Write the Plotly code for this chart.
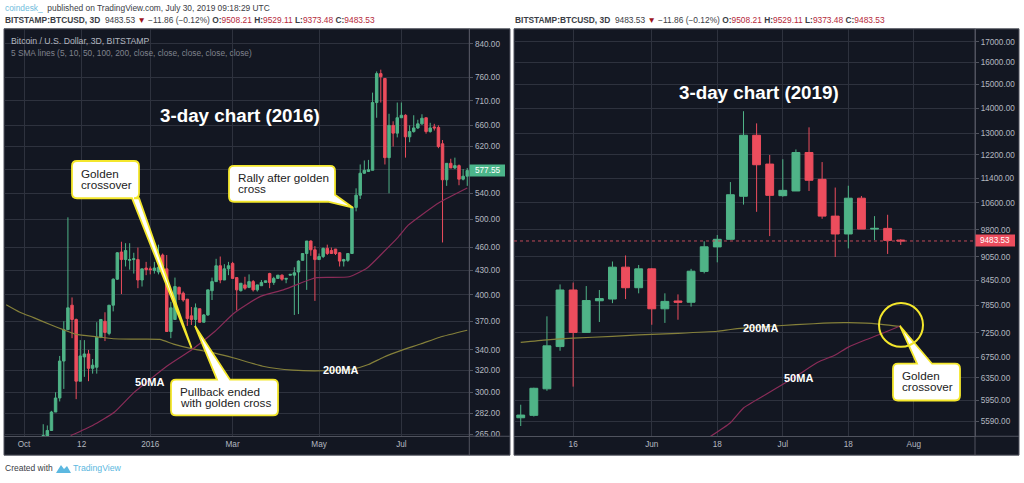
import pandas as pd
import plotly.graph_objects as go

BG = "#131722"
GRID = "#2e323e"
AXIS = "#50535e"
UP = "#4fb387"
DOWN = "#ec4d5d"
TXT = "#b4b7c0"
FONT = "Liberation Sans"

# 2015/16 3-day candles
dates_2016 = pd.date_range("2015-10-15", periods=104, freq="3D")
open_2016 = [250, 263, 268, 283, 295, 329, 361, 388, 372, 310, 333, 336, 322, 323, 353, 370, 357, 388, 419, 454,
             444, 443, 444, 444, 418, 433, 432, 430, 428, 450, 432, 359, 372, 409, 402, 395, 376, 372, 384, 369,
             377, 405, 416, 436, 418, 432, 439, 421, 405, 412, 409, 416, 406, 411, 415, 426, 415, 420, 424, 419,
             424, 424, 428, 443, 452, 469, 457, 444, 448, 459, 456, 458, 453, 442, 443, 452, 518, 537, 573, 576,
             578, 706, 769, 758, 600, 660, 645, 675, 680, 638, 648, 655, 663, 675, 648, 657, 656, 625, 562, 590,
             582, 586, 563, 568]
high_2016 = [273, 272, 284, 300, 334, 370, 503, 397, 373, 350, 350, 340, 331, 369, 372, 380, 388, 420, 454, 468,
             466, 466, 453, 460, 432, 441, 435, 441, 464, 452, 450, 392, 421, 410, 404, 395, 386, 390, 384, 378,
             406, 421, 445, 448, 438, 441, 441, 421, 414, 422, 425, 418, 412, 418, 417, 427, 422, 424, 425, 420,
             425, 434, 443, 452, 469, 470, 462, 452, 460, 464, 460, 458, 454, 445, 452, 520, 548, 588, 595, 596,
             727, 774, 778, 758, 683, 668, 706, 706, 682, 660, 680, 671, 682, 675, 665, 663, 660, 632, 590, 598,
             600, 588, 580, 582]
low_2016 = [245, 260, 268, 283, 292, 303, 361, 352, 294, 310, 314, 310, 317, 317, 352, 349, 355, 381, 418, 401,
            435, 431, 426, 408, 410, 424, 425, 426, 425, 432, 359, 352, 372, 394, 392, 365, 366, 365, 369, 369,
            376, 394, 416, 414, 418, 424, 420, 382, 404, 406, 408, 404, 404, 411, 415, 408, 412, 420, 417, 414,
            424, 377, 378, 443, 406, 449, 393, 444, 446, 450, 452, 450, 435, 435, 441, 452, 512, 531, 572, 575,
            578, 675, 706, 588, 540, 620, 637, 675, 600, 628, 646, 653, 661, 644, 646, 650, 617, 467, 552, 582,
            580, 553, 561, 552]
close_2016 = [264, 268, 283, 295, 329, 361, 385, 372, 310, 334, 336, 322, 325, 353, 372, 358, 388, 419, 453, 444,
              456, 444, 445, 418, 432, 431, 431, 433, 434, 435, 359, 385, 410, 401, 394, 373, 372, 385, 369, 377,
              406, 416, 436, 418, 432, 436, 420, 406, 414, 408, 416, 406, 412, 415, 417, 415, 420, 424, 419, 420,
              425, 427, 442, 452, 469, 457, 444, 448, 459, 452, 452, 452, 442, 444, 452, 518, 537, 573, 578, 579,
              706, 769, 762, 600, 660, 645, 675, 680, 638, 648, 655, 663, 674, 648, 655, 655, 620, 562, 590, 582,
              586, 563, 568, 577.55]

ma200_dates_2016 = ["2015-09-18", "2015-09-28", "2015-10-08", "2015-10-20", "2015-10-30", "2015-11-08", "2015-11-23",
                    "2015-12-05", "2015-12-20", "2016-01-08", "2016-01-18", "2016-02-01", "2016-02-17", "2016-03-02",
                    "2016-03-23", "2016-04-14", "2016-05-06", "2016-05-28", "2016-06-08", "2016-06-19", "2016-07-03",
                    "2016-07-16", "2016-07-30", "2016-08-19"]
ma200_2016 = [388.5, 380, 374, 366.5, 360.7, 356, 353.4, 351.4, 351, 350.7, 345.9, 341, 336.8, 332, 324, 320.3, 319.7,
              321.5, 325.7, 332.7, 340, 346, 353, 360.3]
ma50_dates_2016 = ["2015-11-04", "2015-11-20", "2015-12-06", "2015-12-20", "2016-01-01", "2016-01-13", "2016-02-01",
                   "2016-02-17", "2016-03-02", "2016-03-21", "2016-04-07", "2016-04-24", "2016-05-01", "2016-05-25",
                   "2016-06-07", "2016-06-19", "2016-06-29", "2016-07-07", "2016-07-17", "2016-07-30", "2016-08-19"]
ma50_2016 = [264, 272, 283, 299.7, 311.8, 324, 341, 359, 379, 398, 406, 417, 421, 422, 433, 454, 473, 491.5, 507, 526,
             548.6]

yticks_2016 = [840, 760, 710, 660, 620, 580, 540, 500, 460, 430, 400, 370, 340, 320, 300, 282, 265]
ylabels_2016 = ["840.00", "760.00", "710.00", "660.00", "620.00", "", "540.00", "500.00", "460.00", "430.00", "400.00",
                "370.00", "340.00", "320.00", "300.00", "282.00", "265.00"]
xticks_2016 = ["2015-10-01", "2015-11-12", "2016-01-01", "2016-03-01", "2016-05-03", "2016-07-02"]
xlabels_2016 = ["Oct", "12", "2016", "Mar", "May", "Jul"]

# 2019 3-day candles
dates_2019 = pd.date_range("2019-05-02", periods=30, freq="3D")
open_2019 = [5650, 5690, 6150, 6960, 8215, 7255, 7960, 8000, 8783, 8270, 8740, 7775, 7955, 7925, 8675, 9320, 9530,
             10810, 12926, 11880, 10830, 10980, 12290, 11360, 10200, 9680, 10750, 9820, 9840, 9508.21]
high_2019 = [5870, 6170, 7605, 8350, 8395, 8310, 8215, 8930, 9090, 8840, 8760, 8135, 8110, 8740, 9475, 9650, 11270,
             13870, 13385, 12200, 12050, 12400, 13230, 11950, 11090, 11150, 10820, 10200, 10240, 9529.11]
low_2019 = [5515, 5670, 6115, 6875, 6190, 7255, 7480, 7905, 8000, 8135, 7420, 7460, 7530, 7825, 8625, 8908, 9520,
            10550, 10330, 9620, 10795, 10980, 10980, 10120, 9050, 9280, 9820, 9510, 9130, 9373.48]
close_2019 = [5695, 6160, 6975, 8215, 7255, 7965, 8010, 8783, 8270, 8740, 7775, 7945, 7925, 8680, 9323, 9530, 10860,
              12926, 11857, 10840, 11000, 12290, 11330, 10200, 9680, 10750, 9820, 9840, 9500, 9483.53]

ma200_dates_2019 = ["2019-05-02", "2019-05-08", "2019-05-14", "2019-05-23", "2019-05-29", "2019-06-07", "2019-06-16",
                    "2019-06-19", "2019-06-22", "2019-06-30", "2019-07-08", "2019-07-15", "2019-07-20", "2019-07-23",
                    "2019-07-28"]
ma200_2019 = [7045, 7100, 7135, 7170, 7205, 7236, 7280, 7317, 7346, 7398, 7442, 7465, 7457, 7435, 7383]
ma50_dates_2019 = ["2019-06-14", "2019-06-19", "2019-06-22", "2019-06-27", "2019-07-02", "2019-07-05", "2019-07-09",
                   "2019-07-13", "2019-07-16", "2019-07-20", "2019-07-23", "2019-07-28"]
ma50_2019 = [5330, 5568, 5815, 6044, 6280, 6434, 6647, 6791, 6949, 7100, 7205, 7398]

yticks_2019 = [17000, 16000, 15000, 14000, 13000, 12200, 11400, 10600, 9800, 9050, 8450, 7850, 7250, 6750, 6350, 5950,
               5590]
ylabels_2019 = [f"{v}.00" for v in yticks_2019]
xticks_2019 = ["2019-05-14", "2019-06-01", "2019-06-16", "2019-07-01", "2019-07-16", "2019-07-31"]
xlabels_2019 = ["16", "Jun", "18", "Jul", "18", "Aug"]
last_2019 = [9483.53, 9483.53]
last_x_2019 = ["2019-04-30 11:00", "2019-08-14"]


def X(px):
    return px / 1024


def Y(py):
    return 1 - py / 483


fig = go.Figure()


def candles(x, o, h, l, c, xa, ya):
    fig.add_trace(go.Candlestick(x=x, open=o, high=h, low=l, close=c, xaxis=xa, yaxis=ya, showlegend=False,
                                 hoverinfo="skip", whiskerwidth=0,
                                 increasing=dict(line=dict(color=UP, width=1), fillcolor=UP),
                                 decreasing=dict(line=dict(color=DOWN, width=1), fillcolor=DOWN)))


def ma_line(x, y, color, xa, ya):
    fig.add_trace(go.Scatter(x=x, y=y, mode="lines", xaxis=xa, yaxis=ya, showlegend=False, hoverinfo="skip",
                             line=dict(color=color, width=1.2, shape="spline", smoothing=0.5)))


MA200 = "#85803a"
MA50 = "#8a2c58"
ma_line(ma200_dates_2016, ma200_2016, MA200, "x", "y")
ma_line(ma50_dates_2016, ma50_2016, MA50, "x", "y")
candles(dates_2016, open_2016, high_2016, low_2016, close_2016, "x", "y")
ma_line(ma200_dates_2019, ma200_2019, MA200, "x2", "y2")
ma_line(ma50_dates_2019, ma50_2019, MA50, "x2", "y2")
candles(dates_2019, open_2019, high_2019, low_2019, close_2019, "x2", "y2")
fig.add_trace(go.Scatter(x=last_x_2019, y=last_2019, mode="lines", xaxis="x2", yaxis="y2", showlegend=False,
                         hoverinfo="skip", line=dict(color="#c04a58", width=1, dash="dot")))


def x_axis(domain, rng, vals, text, anchor):
    return dict(domain=domain, range=rng, type="date", tickvals=vals, ticktext=text, anchor=anchor,
                rangeslider=dict(visible=False), showgrid=True, gridcolor=GRID, gridwidth=1, zeroline=False,
                showline=True, linecolor=AXIS, ticks="", tickfont=dict(family=FONT, size=8.2, color=TXT),
                tickangle=0)


def y_axis(domain, rng, vals, text, anchor):
    return dict(domain=domain, range=rng, type="log", tickvals=vals, ticktext=text, anchor=anchor, side="right",
                showgrid=True, gridcolor=GRID, gridwidth=1, zeroline=False, showline=True, linecolor=AXIS,
                ticks="outside", ticklen=3, tickcolor=AXIS, tickfont=dict(family=FONT, size=8.2, color=TXT))


fig.update_layout(
    width=1024, height=483, autosize=False, margin=dict(l=0, r=0, t=0, b=0),
    paper_bgcolor="white", plot_bgcolor=BG, showlegend=False,
    font=dict(family=FONT), boxgap=0.25, boxgroupgap=0.2,
    xaxis=x_axis([X(4), X(469.3)], ["2015-09-16 10:00", "2016-08-20 12:00"], xticks_2016, xlabels_2016, "y"),
    yaxis=y_axis([Y(439), Y(29)], [2.4207, 2.9434], yticks_2016, ylabels_2016, "x"),
    xaxis2=x_axis([X(514), X(975)], ["2019-04-30 11:00", "2019-08-14"], xticks_2019, xlabels_2019, "y2"),
    yaxis2=y_axis([Y(439), Y(29)], [3.7285, 4.2469], yticks_2019, ylabels_2019, "x2"),
)


def rect(x0, y0, x1, y1, **kw):
    fig.add_shape(type="rect", xref="paper", yref="paper", x0=X(x0), x1=X(x1), y0=Y(y0), y1=Y(y1), **kw)


def vline(px, y0, y1):
    fig.add_shape(type="line", xref="paper", yref="paper", x0=X(px), x1=X(px), y0=Y(y0), y1=Y(y1),
                  line=dict(color=AXIS, width=1))


# panel backgrounds and frames
rect(4, 29, 510, 458, fillcolor=BG, line=dict(color=AXIS, width=1), layer="below")
rect(514, 29, 1019, 458, fillcolor=BG, line=dict(color=AXIS, width=1), layer="below")
vline(469.3, 29, 458)
vline(975, 29, 458)
fig.add_shape(type="line", xref="paper", yref="paper", x0=X(469.3), x1=X(510), y0=Y(439), y1=Y(439),
              line=dict(color=AXIS, width=1))
fig.add_shape(type="line", xref="paper", yref="paper", x0=X(975), x1=X(1019), y0=Y(439), y1=Y(439),
              line=dict(color=AXIS, width=1))


def callout(x0, y0, x1, y1, side, base, tip):
    # rounded box with a wedge, drawn clockwise from the top left corner
    r = 5
    p = lambda a, b: f"{X(a):.5f},{Y(b):.5f}"
    wedge = lambda: [f"L{p(*base[0])}", f"L{p(*tip)}", f"L{p(*base[1])}"]
    d = [f"M{p(x0 + r, y0)}"]
    if side == "top":
        d += wedge()
    d += [f"L{p(x1 - r, y0)}", f"Q{p(x1, y0)} {p(x1, y0 + r)}"]
    if side == "corner":
        d += wedge()
        d += [f"L{p(x0 + r, y1)}"]
    elif side == "bottom":
        d += [f"L{p(x1, y1 - r)}", f"Q{p(x1, y1)} {p(x1 - r, y1)}"]
        d += wedge()
        d += [f"L{p(x0 + r, y1)}"]
    else:
        d += [f"L{p(x1, y1 - r)}", f"Q{p(x1, y1)} {p(x1 - r, y1)}", f"L{p(x0 + r, y1)}"]
    d += [f"Q{p(x0, y1)} {p(x0, y1 - r)}", f"L{p(x0, y0 + r)}", f"Q{p(x0, y0)} {p(x0 + r, y0)}", "Z"]
    fig.add_shape(type="path", xref="paper", yref="paper", path=" ".join(d), fillcolor="white",
                  line=dict(color="#f4e72c", width=1.8), layer="above")


callout(72, 162, 139, 199.5, "bottom", [(139, 199.5), (132, 199.5)], (191.5, 350))
callout(171, 382, 278, 418, "top", [(217, 382), (230, 382)], (195, 328))
callout(229, 167, 335, 203, "corner", [(335, 196), (328, 203)], (353, 209))
callout(893, 366, 960, 403, "top", [(917, 366), (932, 366)], (900, 328))
fig.add_shape(type="circle", xref="paper", yref="paper", x0=X(879), x1=X(923), y0=Y(349), y1=Y(305),
              line=dict(color="#f4e72c", width=2), layer="above")


def label(px, py, text, size, color="white", bold=False, anchor="left", **kw):
    if bold:
        text = f"<b>{text}</b>"
    fig.add_annotation(xref="paper", yref="paper", x=X(px), y=Y(py), text=text, showarrow=False, xanchor=anchor,
                       yanchor="middle", align="left", font=dict(family=FONT, size=size, color=color),
                       borderpad=0, **kw)


HEAD = "#3a3d45"
RED = "#b5293a"
quote = (f"<b>BITSTAMP:BTCUSD, 3D</b>  9483.53 <span style='color:#9c1420'>▼</span> −11.86 (−0.12%) "
         f"<b>O:</b><span style='color:{RED}'>9508.21</span> <b>H:</b><span style='color:{RED}'>9529.11</span> "
         f"<b>L:</b><span style='color:{RED}'>9373.48</span> <b>C:</b><span style='color:{RED}'>9483.53</span>")

label(4, 8, "<span style='color:#6fbcdc'>coindesk_</span>  published on TradingView.com, July 30, 2019 09:18:29 UTC",
      8.4, HEAD)
label(4, 20, quote, 8.4, HEAD)
label(514, 20, quote, 8.4, HEAD)
label(10, 41, "Bitcoin / U.S. Dollar, 3D, BITSTAMP", 8.7, TXT)
label(10, 53, "5 SMA lines (5, 10, 50, 100, 200, close, close, close, close, close)", 8.3, "#80838e")
label(240, 116, "3-day chart (2016)", 18.8, bold=True, anchor="center")
label(759, 93, "3-day chart (2019)", 18.8, bold=True, anchor="center")

# callout text, one annotation per line to keep the tight line spacing
label(80, 175, "Golden", 11.7, "#222222")
label(80, 186, "crossover", 11.7, "#222222")
label(179, 394, "Pullback ended", 11.7, "#222222")
label(179, 405, "with golden cross", 11.7, "#222222")
label(237, 179, "Rally after golden", 11.7, "#222222")
label(237, 190, "cross", 11.7, "#222222")
label(901, 378, "Golden", 11.7, "#222222")
label(901, 389, "crossover", 11.7, "#222222")

label(149, 384, "50MA", 11, bold=True, anchor="center")
label(341, 372, "200MA", 11, bold=True, anchor="center")
label(761, 330, "200MA", 11, bold=True, anchor="center")
label(798, 380, "50MA", 11, bold=True, anchor="center")

rect(469.5, 165.5, 505, 177.5, fillcolor="#4bb58a", line=dict(width=0), layer="above")
label(487, 171.5, "577.55", 8.2, anchor="center")
rect(975.5, 236, 1015, 248, fillcolor="#ec4d5d", line=dict(width=0), layer="above")
label(995, 242, "9483.53", 8.2, anchor="center")

label(4, 471, "Created with", 8.5, HEAD)
label(72, 471, "TradingView", 8.7, "#5cb8e0")
fig.add_shape(type="path", xref="paper", yref="paper", fillcolor="#5cb8e0", line=dict(width=0), layer="above",
              path=f"M{X(56):.5f},{Y(476):.5f} L{X(61):.5f},{Y(468):.5f} L{X(64):.5f},{Y(472):.5f} "
                   f"L{X(67):.5f},{Y(469):.5f} L{X(71):.5f},{Y(476):.5f} Z")

fig.write_html("out.html", config={"displayModeBar": False}, post_script="document.body.style.margin='0';")
